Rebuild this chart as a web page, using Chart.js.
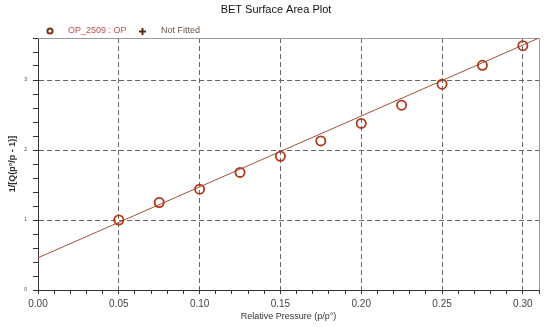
<!DOCTYPE html>
<html>
<head>
<meta charset="utf-8">
<script src="https://cdn.jsdelivr.net/npm/chart.js@4.4.1/dist/chart.umd.min.js"></script>
<style>
html,body{margin:0;padding:0;background:#fff;}
#wrap{width:550px;height:327px;position:relative;}
</style>
</head>
<body>
<div id="wrap"><canvas id="c"></canvas></div>
<script>
// ---- data ----
const chartTitle = "BET Surface Area Plot";
const seriesName = "OP_2509 : OP";
const notFittedName = "Not Fitted";
const xTitle = "Relative Pressure (p/p°)";
const yTitle = "1/[Q(p°/p - 1)]";
const pressure = [0.05, 0.075, 0.10, 0.125, 0.15, 0.175, 0.20, 0.225, 0.25, 0.275, 0.30];
const betValue = [1.00, 1.25, 1.44, 1.68, 1.91, 2.13, 2.38, 2.64, 2.94, 3.21, 3.49];
const fitX = [0.00, 0.31];
const fitY = [0.46, 3.60];
const notFittedX = [];
const notFittedY = [];

const FONT = "'Liberation Sans', Arial, sans-serif";

const pts = pressure.map((x, i) => ({x: x, y: betValue[i]}));
const fitPts = fitX.map((x, i) => ({x: x, y: fitY[i]}));
const nfPts = notFittedX.map((x, i) => ({x: x, y: notFittedY[i]}));

const isMajorX = v => Math.abs(v * 20 - Math.round(v * 20)) < 1e-6;
const isMajorY = v => Math.abs(v - Math.round(v)) < 1e-6;

const decor = {
  id: 'decor',
  beforeDatasetsDraw(chart) {
    const {ctx, chartArea: a} = chart;
    ctx.save();
    ctx.strokeStyle = '#9a9a9a';
    ctx.lineWidth = 1;
    ctx.beginPath();
    ctx.moveTo(a.left, a.top + 0.5);
    ctx.lineTo(a.right + 0.5, a.top + 0.5);
    ctx.lineTo(a.right + 0.5, a.bottom);
    ctx.stroke();
    ctx.restore();
  },
  afterDraw(chart) {
    const ctx = chart.ctx;
    ctx.save();
    // title
    ctx.fillStyle = '#111';
    ctx.font = "11px " + FONT;
    ctx.textAlign = 'center';
    ctx.textBaseline = 'middle';
    ctx.fillText(chartTitle, 276, 10);
    // legend
    ctx.textAlign = 'left';
    ctx.font = "9px " + FONT;
    ctx.strokeStyle = '#7a3510';
    ctx.lineWidth = 2;
    ctx.beginPath();
    ctx.arc(50, 31, 2.6, 0, Math.PI * 2);
    ctx.stroke();
    ctx.fillStyle = '#c0504d';
    ctx.fillText(seriesName, 68, 31);
    ctx.strokeStyle = '#5a2a10';
    ctx.beginPath();
    ctx.moveTo(139, 31.5); ctx.lineTo(146, 31.5);
    ctx.moveTo(142.5, 28); ctx.lineTo(142.5, 35);
    ctx.stroke();
    ctx.fillStyle = '#6b5444';
    ctx.fillText(notFittedName, 161, 31);
    ctx.restore();
  }
};

new Chart(document.getElementById('c'), {
  type: 'scatter',
  data: {
    datasets: [
      {
        label: 'fit',
        type: 'line',
        data: fitPts,
        borderColor: '#a0523a',
        borderWidth: 1,
        pointRadius: 0,
        fill: false,
        order: 2
      },
      {
        label: seriesName,
        data: pts,
        pointRadius: 4.6,
        pointBorderWidth: 1.8,
        borderColor: '#b0381c',
        backgroundColor: 'rgba(255,255,255,0)',
        order: 1
      },
      {
        label: notFittedName,
        data: nfPts,
        pointStyle: 'cross',
        borderColor: '#5a2a10'
      }
    ]
  },
  options: {
    responsive: true,
    maintainAspectRatio: false,
    animation: false,
    layout: {padding: {left: 0, right: 11, top: 38, bottom: 0}},
    plugins: {
      legend: {display: false},
      title: {display: false},
      tooltip: {enabled: false}
    },
    scales: {
      x: {
        type: 'linear',
        min: 0,
        max: 0.31,
        afterFit: s => { s.height = 37; },
        ticks: {
          stepSize: 0.01,
          autoSkip: false,
          maxRotation: 0,
          padding: 4,
          color: '#444',
          font: {family: FONT, size: 10},
          callback: v => isMajorX(v) ? v.toFixed(2) : ''
        },
        grid: {
          color: c => (c.tick && isMajorX(c.tick.value) && c.tick.value > 0.001) ? '#666' : 'rgba(0,0,0,0)',
          lineWidth: 1,
          tickColor: '#333',
          tickLength: 4,
          drawTicks: true
        },
        border: {display: true, color: '#333', width: 1, dash: [5, 3]},
        title: {
          display: true,
          text: xTitle,
          color: '#333',
          font: {family: FONT, size: 9, lineHeight: '21px'},
          padding: 0
        }
      },
      y: {
        type: 'linear',
        min: 0,
        max: 3.6,
        afterFit: s => { s.width = 38; },
        ticks: {
          stepSize: 0.2,
          autoSkip: false,
          padding: 6,
          color: '#444',
          font: {family: FONT, size: 5},
          callback: v => isMajorY(v) ? String(Math.round(v)) : ''
        },
        grid: {
          color: c => (c.tick && isMajorY(c.tick.value) && c.tick.value > 0.001) ? '#666' : 'rgba(0,0,0,0)',
          lineWidth: 1,
          tickColor: '#333',
          tickLength: 5,
          drawTicks: true
        },
        border: {display: true, color: '#333', width: 1, dash: [5, 3]},
        title: {
          display: true,
          text: yTitle,
          color: '#333',
          font: {family: FONT, size: 9, weight: 'bold', lineHeight: '26px'},
          padding: 0
        }
      }
    }
  },
  plugins: [decor]
});
</script>
</body>
</html>
